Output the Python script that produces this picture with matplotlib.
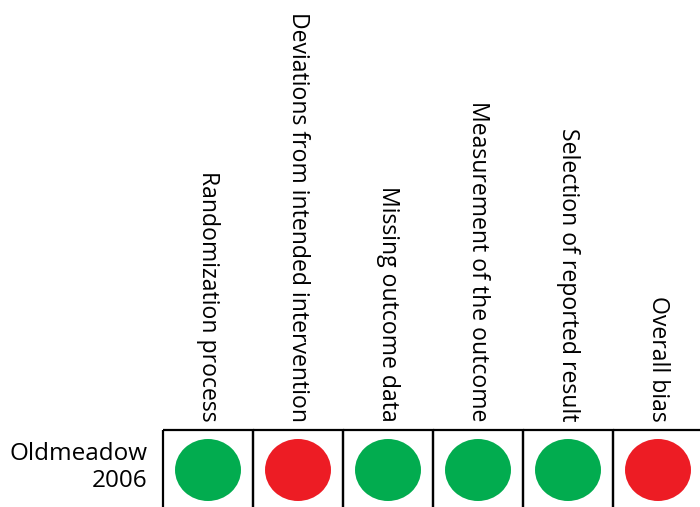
import matplotlib.pyplot as plt
from matplotlib.patches import Ellipse, Rectangle

plt.rcParams['font.family'] = ['Open Sans', 'DejaVu Sans']

domains = ['Randomization process', 'Deviations from intended intervention',
           'Missing outcome data', 'Measurement of the outcome',
           'Selection of reported result', 'Overall bias']
studies = ['Oldmeadow\n2006']
judgements = [['low', 'high', 'low', 'low', 'low', 'high']]
colours = {'low': '#02AC4F', 'high': '#ED1C24'}

fig = plt.figure(figsize=(7, 5.07), dpi=100)
# grid axes: 90 px per column, 80 px per row, extends past the right/bottom edge
ax = fig.add_axes([163 / 700, (507 - 430 - 80) / 507, 540 / 700, 80 / 507])
ax.set_xlim(0, len(domains))
ax.set_ylim(len(studies), 0)
ax.axis('off')

for r, row in enumerate(judgements):
    for c, j in enumerate(row):
        ax.add_patch(Rectangle((c, r), 1, 1, fill=False, edgecolor='black',
                               linewidth=1.6, clip_on=False))
        ax.add_patch(Ellipse((c + 0.5, r + 0.5), 0.733, 0.775,
                             facecolor=colours[j], edgecolor='none'))
    ax.text(-0.17, r + 0.47, studies[r], ha='right', va='center',
            fontsize=17.5, linespacing=1.15)

for c, name in enumerate(domains):
    ax.annotate(name, (c + 0.5, 0), xytext=(0, 6), textcoords='offset points',
                rotation=270, ha='center', va='bottom', fontsize=16.6)

fig.savefig('out.png', dpi=100)
